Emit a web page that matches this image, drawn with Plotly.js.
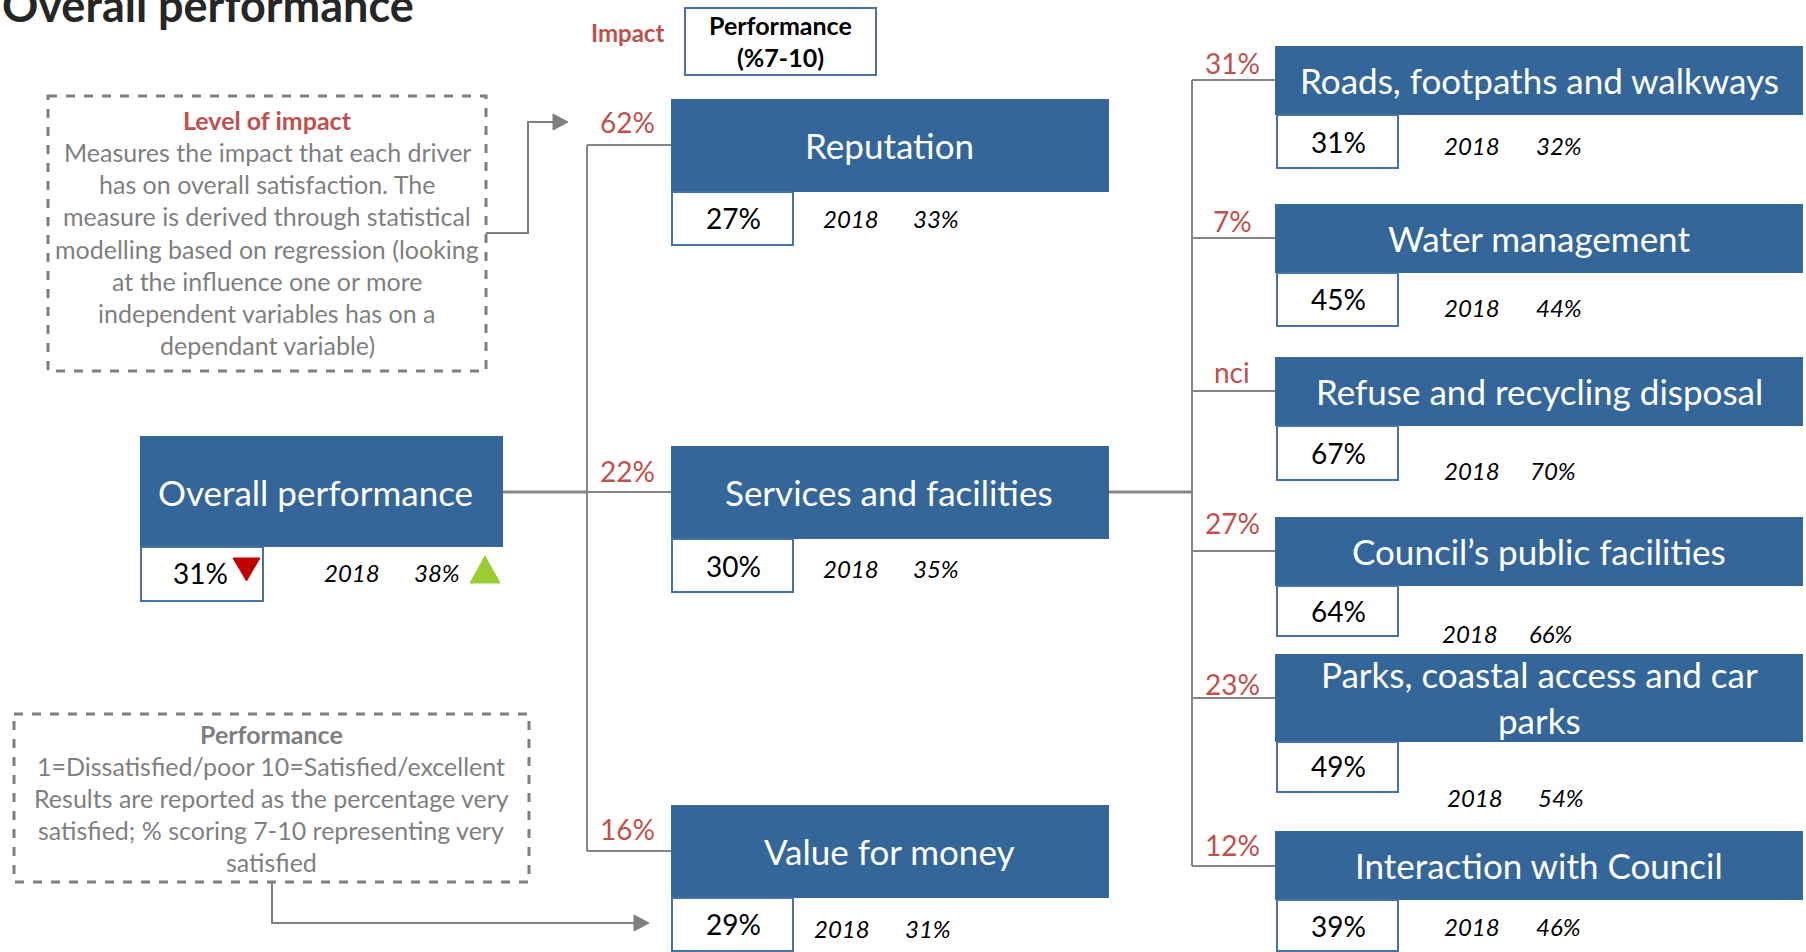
<!DOCTYPE html>
<html>
<head>
<meta charset="utf-8">
<script src="https://cdn.plot.ly/plotly-3.0.1.min.js"></script>
<style>html,body{margin:0;padding:0;background:#fff;}#chart{width:1806px;height:952px;}</style>
</head>
<body>
<div id="chart"></div>
<script>
// ---------- DATA ----------
const chartTitle = "Overall performance";
const prevYear = "2018";
const overallLabel = "Overall performance";
const overallPerf = 31;
const overallPrev = 38;

const mainDrivers = ["Reputation", "Services and facilities", "Value for money"];
const mainImpact = ["62%", "22%", "16%"];
const mainPerf = [27, 30, 29];
const mainPrev = [33, 35, 31];

const serviceDrivers = ["Roads, footpaths and walkways", "Water management", "Refuse and recycling disposal",
  "Council’s public facilities", "Parks, coastal access and car<br>parks", "Interaction with Council"];
const serviceImpact = ["31%", "7%", "nci", "27%", "23%", "12%"];
const servicePerf = [31, 45, 67, 64, 49, 39];
const servicePrev = [32, 44, 70, 66, 54, 46];

const impactNoteTitle = "Level of impact";
const impactNoteLines = ["Measures the impact that each driver", "has on overall satisfaction. The",
  "measure is derived through statistical", "modelling based on regression (looking",
  "at the influence one or more", "independent variables has on a", "dependant variable)"];
const perfNoteTitle = "Performance";
const perfNoteLines = ["1=Dissatisfied/poor 10=Satisfied/excellent", "Results are reported as the percentage very",
  "satisfied; % scoring 7-10 representing very", "satisfied"];

// ---------- LAYOUT / STYLE ----------
const W = 1806, H = 952;
const FONT = "Lato, 'Open Sans', sans-serif";
const BLUE = "#346699", BORDER = "#4672a6", GREY = "#858585", RED = "#c0504d", NOTE = "#7f7f7f";
const shapes = [], ann = [];

function txt(x, y, text, size, color, extra) {
  ann.push(Object.assign({x: x, y: y, xref: "x", yref: "y", text: text, showarrow: false,
    xanchor: "center", yanchor: "middle", font: {family: FONT, size: size, color: color}}, extra || {}));
}
function rect(x0, y0, x1, y1, fill, line) {
  shapes.push({type: "rect", xref: "x", yref: "y", x0: x0, y0: y0, x1: x1, y1: y1,
    fillcolor: fill, line: line || {width: 0}, layer: "above"});
}
function path(d, color, width, fill) {
  shapes.push({type: "path", xref: "x", yref: "y", path: d, line: {color: color, width: width},
    fillcolor: fill || "rgba(0,0,0,0)", layer: "above"});
}
function pct(v) { return v + "%"; }
const DY = -1; // small vertical nudge for visual centring
const HEAD = 35, PCT = 28, YR = 24, NOTESZ = 25;

// Title
txt(0, 5, "<b>" + chartTitle + "</b>", 45, "#262626", {xanchor: "left"});

// Header key
txt(627, 32, "<b>Impact</b>", 24, RED);
rect(685, 8, 876, 75, "#fff", {color: BORDER, width: 2});
txt(780, 26 + DY, "<b>Performance</b>", 25, "#000");
txt(780, 58 + DY, "<b>(%7-10)</b>", 25, "#000");

// Connectors
path("M503,492 L587,492", GREY, 3);
path("M587,145 L587,851", GREY, 2);
const midBranchY = [145, 492, 851];
midBranchY.forEach(y => path("M587," + y + " L671," + y, GREY, 2));
path("M1109,492 L1192,492", GREY, 3);
const svcBranchY = [80, 238, 391, 551, 698, 866];
path("M1192," + svcBranchY[0] + " L1192," + svcBranchY[svcBranchY.length - 1], GREY, 2);
svcBranchY.forEach(y => path("M1192," + y + " L1275," + y, GREY, 2));

// Overall box
rect(140, 436, 503, 547, BLUE);
txt(315, 493 + DY, overallLabel, HEAD, "#fff");
rect(141, 547, 263, 601, "#fff", {color: BORDER, width: 2});
txt(200, 574 + DY, pct(overallPerf), PCT, "#000");
path("M233,558 L260,558 L246.5,581 Z", "#c00000", 1, "#c00000");
txt(352, 573 + DY, "<i>" + prevYear + "</i>", YR, "#000");
txt(437, 573 + DY, "<i>" + pct(overallPrev) + "</i>", YR, "#000");
path("M470,583 L500,583 L485,556 Z", "#9acd32", 1, "#9acd32");

// Main drivers
const midTop = [99, 446, 805];
const midPctY = [219, 567, 925];
const midYearX = [851, 851, 842], midPrevX = [936, 936, 928], midYearY = [219, 569, 929];
const midImpY = [123, 472, 830];
mainDrivers.forEach((d, i) => {
  const t = midTop[i];
  rect(671, t, 1109, t + 93, BLUE);
  txt(889, t + 47 + DY, d, HEAD, "#fff");
  rect(672, t + 93, 793, t + 146, "#fff", {color: BORDER, width: 2});
  txt(733, midPctY[i] + DY, pct(mainPerf[i]), PCT, "#000");
  txt(midYearX[i], midYearY[i] + DY, "<i>" + prevYear + "</i>", YR, "#000");
  txt(midPrevX[i], midYearY[i] + DY, "<i>" + pct(mainPrev[i]) + "</i>", YR, "#000");
  txt(627, midImpY[i] + DY, mainImpact[i], PCT, RED);
});

// Service drivers
const svcTop = [46, 204, 357, 517, 654, 831];
const svcBot = [115, 273, 426, 586, 742, 900];
const svcWhiteBot = [168, 326, 480, 636, 792, 951];
const svcPctY = [143, 300, 454, 612, 767, 927];
const svcYearY = [146, 308, 471, 634, 798, 927];
const svcYearX = [1472, 1472, 1472, 1470, 1475, 1472];
const svcPrevX = [1559, 1559, 1553, 1551, 1561, 1558];
const svcImpY = [64, 222, 373, 524, 685, 846];
serviceDrivers.forEach((d, i) => {
  rect(1275, svcTop[i], 1803, svcBot[i], BLUE);
  txt(1539, (svcTop[i] + svcBot[i]) / 2 + DY, d, HEAD, "#fff", {align: "center"});
  rect(1277, svcBot[i], 1398, svcWhiteBot[i], "#fff", {color: BORDER, width: 2});
  txt(1338, svcPctY[i] + DY, pct(servicePerf[i]), PCT, "#000");
  txt(svcYearX[i], svcYearY[i] + DY, "<i>" + prevYear + "</i>", YR, "#000");
  txt(svcPrevX[i], svcYearY[i] + DY, "<i>" + pct(servicePrev[i]) + "</i>", YR, "#000");
  txt(1232, svcImpY[i] + DY, serviceImpact[i], PCT, RED);
});

// Note: level of impact
shapes.push({type: "rect", xref: "x", yref: "y", x0: 48, y0: 96, x1: 486, y1: 371,
  line: {color: NOTE, width: 3, dash: "dash"}, fillcolor: "rgba(0,0,0,0)"});
txt(267, 121 + DY, "<b>" + impactNoteTitle + "</b>", NOTESZ, RED);
impactNoteLines.forEach((l, i) => txt(267, 153 + i * 32.2 + DY, l, NOTESZ, NOTE));
path("M486,233 L528,233 L528,122 L554,122", NOTE, 2);
path("M553,114 L568,122 L553,130 Z", NOTE, 1, NOTE);

// Note: performance
shapes.push({type: "rect", xref: "x", yref: "y", x0: 14, y0: 714, x1: 529, y1: 882,
  line: {color: NOTE, width: 3, dash: "dash"}, fillcolor: "rgba(0,0,0,0)"});
txt(271, 735 + DY, "<b>" + perfNoteTitle + "</b>", NOTESZ, NOTE);
perfNoteLines.forEach((l, i) => txt(271, 767 + i * 32 + DY, l, NOTESZ, NOTE));
path("M272,882 L272,923 L635,923", NOTE, 2);
path("M634,915 L649,923 L634,931 Z", NOTE, 1, NOTE);

const layout = {
  width: W, height: H,
  margin: {l: 0, r: 0, t: 0, b: 0, pad: 0},
  paper_bgcolor: "#fff", plot_bgcolor: "#fff",
  showlegend: false,
  xaxis: {range: [0, W], visible: false, fixedrange: true},
  yaxis: {range: [H, 0], visible: false, fixedrange: true},
  shapes: shapes,
  annotations: ann,
  font: {family: FONT}
};
Plotly.newPlot("chart", [{x: [0], y: [0], mode: "markers", marker: {opacity: 0}, hoverinfo: "skip"}], layout,
  {displayModeBar: false, staticPlot: true});
</script>
</body>
</html>
